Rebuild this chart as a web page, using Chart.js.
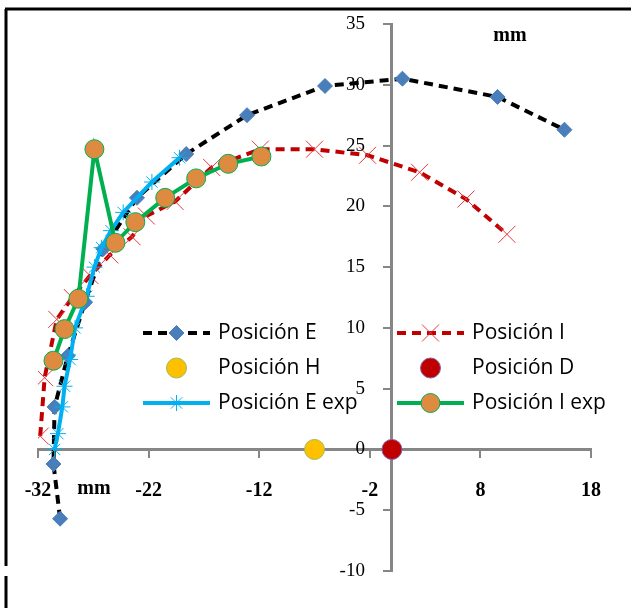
<!DOCTYPE html>
<html>
<head>
<meta charset="utf-8">
<script src="https://cdn.jsdelivr.net/npm/chart.js"></script>
<style>
  body { margin: 0; background: #fff; }
  #wrap { position: relative; width: 631px; height: 608px; }
</style>
</head>
<body>
<div id="wrap"><canvas id="chart" width="631" height="608"></canvas></div>
<script>
// axis ticks
const xTicks = [-32, -22, -12, -2, 8, 18];
const yMin = -10, yMax = 35, yStep = 5;

// Posición E (calculated, black dashed)
const posE_x = [-30.0, -30.6, -30.5, -29.3, -27.75, -26.1, -23.05, -18.6, -13.1, -6.05, 0.95, 9.55, 15.6];
const posE_y = [-5.7, -1.2, 3.5, 7.7, 12.1, 16.5, 20.7, 24.3, 27.5, 29.9, 30.5, 29.0, 26.3];

// Posición I (calculated, red dashed)
const posI_x = [-31.8, -31.4, -30.3, -28.9, -27.3, -25.5, -23.5, -22.2, -19.6, -16.3, -11.9, -7.0, -2.2, 2.5, 6.7, 10.4];
const posI_y = [1.1, 5.9, 10.7, 12.5, 14.3, 16.0, 17.5, 19.2, 20.4, 23.2, 24.7, 24.7, 24.2, 22.8, 20.6, 17.7];

// Posición H / D (single points)
const posH_x = [-7.0], posH_y = [0];
const posD_x = [0.0],  posD_y = [0];

// Posición E exp (cyan)
const posEexp_x = [-30.5, -30.2, -29.8, -29.6, -29.1, -28.65, -27.6, -26.9, -26.25, -25.4, -24.3, -21.7, -19.2];
const posEexp_y = [0.0, 1.3, 3.5, 5.2, 7.4, 10.0, 12.6, 15.0, 16.6, 18.0, 19.5, 22.0, 24.0];

// Posición I exp (green line, orange circles)
const posIexp_x = [-30.6, -29.6, -28.35, -26.9, -25.0, -23.2, -20.5, -17.7, -14.8, -11.8];
const posIexp_y = [7.3, 9.9, 12.4, 24.7, 17.0, 18.7, 20.7, 22.3, 23.5, 24.1];

const legendFont = '21px "Open Sans"';

function pts(xs, ys) {
  return xs.map((x, i) => ({ x: x, y: ys[i] }));
}

const datasets = [
  {
    label: 'Posición E', data: pts(posE_x, posE_y), showLine: true,
    borderColor: '#000000', borderWidth: 4, borderDash: [9, 6],
    pointStyle: 'rectRot', pointRadius: 7.5, pointBackgroundColor: '#4A7EBB',
    pointBorderColor: '#4A7EBB', pointBorderWidth: 1, order: 6
  },
  {
    label: 'Posición I', data: pts(posI_x, posI_y), showLine: true,
    borderColor: '#C00000', borderWidth: 4, borderDash: [9, 6],
    pointStyle: 'crossRot', pointRadius: 12, pointBorderColor: '#E8383D',
    pointBackgroundColor: '#E8383D', pointBorderWidth: 1, order: 5
  },
  {
    label: 'Posición H', data: pts(posH_x, posH_y), showLine: false,
    pointStyle: 'circle', pointRadius: 10, pointBackgroundColor: '#FFC000',
    pointBorderColor: '#9BBB59', pointBorderWidth: 1, order: 4
  },
  {
    label: 'Posición D', data: pts(posD_x, posD_y), showLine: false,
    pointStyle: 'circle', pointRadius: 10, pointBackgroundColor: '#C00000',
    pointBorderColor: '#8064A2', pointBorderWidth: 1, order: 3
  },
  {
    label: 'Posición E exp', data: pts(posEexp_x, posEexp_y), showLine: true,
    borderColor: '#00B0F0', borderWidth: 4,
    pointStyle: 'star', pointRadius: 8, pointBorderColor: '#00B0F0',
    pointBackgroundColor: '#00B0F0', pointBorderWidth: 1, order: 2
  },
  {
    label: 'Posición I exp', data: pts(posIexp_x, posIexp_y), showLine: true,
    borderColor: '#00B050', borderWidth: 4,
    pointStyle: 'circle', pointRadius: 9.5, pointBackgroundColor: '#DE8A40',
    pointBorderColor: '#00B050', pointBorderWidth: 1, order: 1
  }
];

// frame, y tick labels, "mm" labels and the legend inside the plot
const decorations = {
  id: 'decorations',
  beforeDraw(chart) {
    const c = chart.ctx;
    c.save();
    c.strokeStyle = '#000';
    c.lineWidth = 3;
    c.beginPath();
    c.moveTo(5, 9); c.lineTo(631, 9);
    c.moveTo(6, 9); c.lineTo(6, 566);
    c.moveTo(6, 576); c.lineTo(6, 608);
    c.stroke();
    c.restore();
  },
  afterDraw(chart) {
    const c = chart.ctx;
    const xs = chart.scales.x, ys = chart.scales.y;
    c.save();
    c.fillStyle = '#000';

    // y tick labels, kept clear of the crossing axis
    const axisX = xs.getPixelForValue(0);
    c.font = '19px "Liberation Serif"';
    c.textAlign = 'right';
    c.textBaseline = 'middle';
    ys.ticks.forEach(t => {
      c.fillText(String(t.value), axisX - 27, ys.getPixelForValue(t.value));
    });

    c.font = 'bold 20px "Liberation Serif"';
    c.textAlign = 'center';
    c.fillText('mm', 510, 36);
    c.fillText('mm', 94, 489);

    // legend, 2 columns x 3 rows
    const colX = [143, 397];
    const rowY = [333, 368, 403];
    const lineLen = 67;
    chart.data.datasets.forEach((ds, i) => {
      const x0 = colX[i % 2];
      const y = rowY[Math.floor(i / 2)];
      if (ds.showLine) {
        c.save();
        c.strokeStyle = ds.borderColor;
        c.lineWidth = ds.borderWidth;
        c.setLineDash(ds.borderDash || []);
        c.beginPath();
        c.moveTo(x0, y); c.lineTo(x0 + lineLen, y);
        c.stroke();
        c.restore();
      }
      c.save();
      c.fillStyle = ds.pointBackgroundColor;
      c.strokeStyle = ds.pointBorderColor;
      c.lineWidth = ds.pointBorderWidth;
      Chart.helpers.drawPoint(c, {
        pointStyle: ds.pointStyle, radius: ds.pointRadius,
        rotation: 0, borderWidth: ds.pointBorderWidth
      }, x0 + lineLen / 2, y);
      c.restore();
      c.fillStyle = '#000';
      c.font = legendFont;
      c.textAlign = 'left';
      c.textBaseline = 'middle';
      c.fillText(ds.label, x0 + lineLen + 8, y);
    });
    c.restore();
  }
};

function drawChart() {
  new Chart(document.getElementById('chart'), {
    type: 'scatter',
    data: { datasets: datasets },
    options: {
      responsive: false,
      animation: false,
      layout: { padding: { left: 38, right: 40, top: 24, bottom: 37 } },
      plugins: { legend: { display: false }, tooltip: { enabled: false } },
      scales: {
        x: {
          type: 'linear', min: xTicks[0], max: xTicks[xTicks.length - 1],
          position: { y: 0 },
          afterBuildTicks: s => { s.ticks = xTicks.map(v => ({ value: v })); },
          grid: { drawOnChartArea: false, color: '#868686', lineWidth: 2, tickLength: 7 },
          border: { color: '#868686', width: 3 },
          ticks: {
            color: '#000', padding: 22, maxRotation: 0, autoSkip: false,
            font: { family: 'Liberation Serif', size: 20, weight: 'bold' }
          }
        },
        y: {
          type: 'linear', min: yMin, max: yMax,
          position: { x: 0 },
          grid: { drawOnChartArea: false, color: '#868686', lineWidth: 2, tickLength: 7 },
          border: { color: '#868686', width: 3 },
          ticks: { stepSize: yStep, display: false }
        }
      }
    },
    plugins: [decorations]
  });
}

Promise.all([
  document.fonts.load(legendFont),
  document.fonts.load('19px "Liberation Serif"'),
  document.fonts.load('bold 20px "Liberation Serif"')
]).then(drawChart, drawChart);
</script>
</body>
</html>
